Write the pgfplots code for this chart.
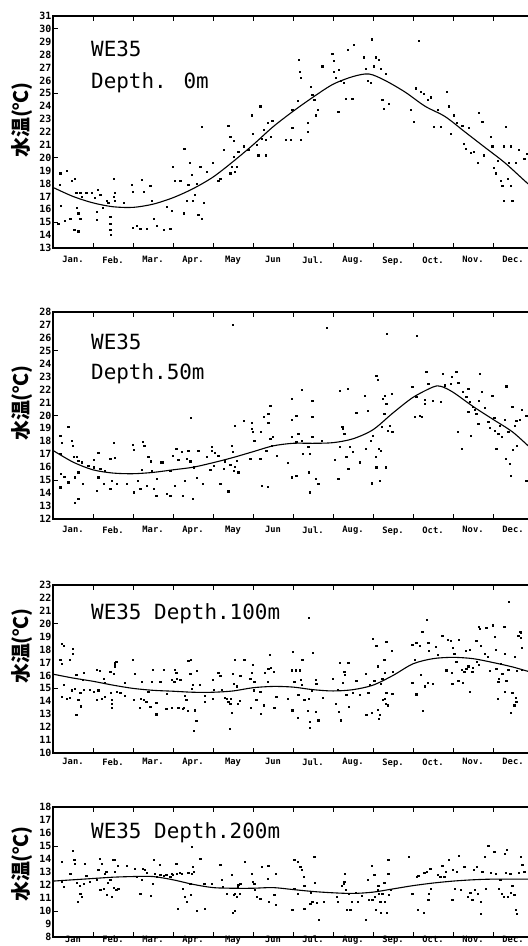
\documentclass[border=0pt]{standalone}
\usepackage{pgfplots}
\pgfplotsset{compat=1.18}
\usepackage{fontspec}
\setmainfont{DejaVu Sans Mono}
\newfontfamily\mono{DejaVu Sans Mono}
\newfontfamily\cjk{Noto Sans CJK JP}
\newcommand\tickfont{\mono\bfseries\fontsize{10}{10}\selectfont}
\newcommand\monthfont{\mono\bfseries\fontsize{8.8}{9}\selectfont}
\newcommand\titlefont{\mono\fontsize{21}{22}\selectfont}
\newcommand\ylabfont{\cjk\bfseries\fontsize{20}{20}\selectfont}
\pgfplotsset{panel/.style={
  scale only axis, width=480bp, anchor=south west,
  xmin=0, xmax=12,
  xtick={0.5,1.5,...,11.5}, minor xtick={1,2,...,11},
  major tick length=0pt, minor tick length=5bp,
  axis line style={line width=1.4bp},
  every tick/.style={black, line width=0.8bp},
  xticklabel style={font=\monthfont},
  yticklabel style={font=\tickfont, inner sep=1.5bp},
  /pgf/number format/assume math mode=true,
}}
\pgfplotsset{dots/.style={only marks, mark=square*, mark size=0.55bp, black},
  fit/.style={smooth, no marks, black, line width=1.1bp}}
\begin{document}
\begin{tikzpicture}[x=1bp,y=1bp]
% ---------- Panel 1 : 0 m ----------
\begin{axis}[panel, at={(53bp,698bp)}, height=232bp, ymin=13, ymax=31,
  ytick={13,...,31}, minor ytick={15,20,25,30},
  xticklabels={Jan.,Feb.,Mar.,Apr.,May,Jun,Jul.,Aug.,Sep.,Oct.,Nov.,Dec.},
  xticklabel style={yshift=-5bp}]
\addplot[dots] coordinates {
(0.18,18.8)(0.34,19.0)(0.16,17.9)(0.19,16.3)(0.13,14.9)(0.30,15.1)(0.43,15.3)(0.47,18.2)(0.55,18.4)(0.58,17.3)
(0.68,17.3)(0.72,17.0)(0.59,16.1)(0.63,15.7)(0.68,15.3)(0.53,14.4)(0.63,14.3)(0.83,17.3)(0.97,17.3)(1.05,16.9)
(1.09,15.8)(1.09,15.2)(1.11,17.5)(1.18,17.1)(1.24,16.1)(1.34,16.7)(1.38,16.5)(1.43,15.4)(1.43,14.9)(1.43,14.4)
(1.44,14.0)(1.51,18.4)(1.51,17.0)(1.55,17.3)(1.55,16.7)(1.76,16.5)(1.97,17.9)(2.00,17.4)(1.99,14.6)(2.09,14.7)
(2.18,14.5)(2.22,18.3)(2.26,17.4)(2.34,14.5)(2.43,17.8)(2.47,16.7)(2.51,15.3)(2.59,14.7)(2.76,14.4)(2.84,16.2)
(2.93,14.5)(2.97,15.9)(3.00,19.3)(3.05,18.2)(3.18,18.2)(3.26,15.7)(3.28,20.7)(3.34,16.7)(3.38,17.9)(3.42,19.6)
(3.47,18.7)(3.49,16.7)(3.55,17.1)(3.59,18.0)(3.63,15.6)(3.68,19.3)(3.72,15.3)(3.72,22.4)(3.76,16.5)(3.84,18.9)
(4.00,19.6)(4.13,18.2)(4.18,18.4)(4.26,20.6)(4.38,22.5)(4.43,21.6)(4.43,18.8)(4.47,19.3)(4.51,20.1)(4.51,21.3)
(4.55,18.9)(4.59,19.3)(4.63,20.5)(4.76,20.9)(4.88,20.6)(4.97,23.3)(5.00,21.9)(5.09,21.0)(5.13,20.2)(5.18,24.0)
(5.22,21.5)(5.26,22.2)(5.36,22.7)(5.48,22.9)(5.32,21.4)(5.32,20.2)(5.44,21.6)(5.82,21.4)(5.94,21.4)(5.98,23.7)
(5.98,22.3)(6.11,24.4)(6.15,27.6)(6.17,26.7)(6.19,26.2)(6.19,21.4)(6.36,22.7)(6.36,22.0)(6.44,25.5)(6.48,24.9)
(6.53,24.5)(6.57,23.3)(6.61,23.7)(6.73,27.1)(6.98,28.1)(7.02,27.5)(7.02,26.7)(7.07,26.2)(7.13,23.6)(7.15,26.8)
(7.19,26.0)(7.27,25.8)(7.32,24.6)(7.36,28.4)(7.48,24.6)(7.52,28.8)(7.77,27.8)(7.82,26.9)(7.86,26.0)(7.94,25.8)
(7.96,29.2)(8.02,27.1)(8.07,27.8)(8.15,27.6)(8.19,26.9)(8.23,24.5)(8.27,23.8)(8.32,26.5)(8.40,24.2)(8.94,23.7)
(9.02,22.8)(9.07,25.4)(9.15,29.1)(9.19,25.1)(9.27,25.0)(9.36,24.5)(9.44,24.7)(9.52,22.4)(9.61,23.7)(9.69,22.4)
(9.84,25.1)(9.90,24.0)(9.94,21.9)(10.02,23.3)(10.10,22.7)(10.23,22.5)(10.27,21.1)(10.32,20.7)(10.40,22.3)(10.44,20.4)
(10.52,20.5)(10.61,19.6)(10.65,23.5)(10.73,22.8)(10.77,20.2)(10.94,21.6)(10.98,20.9)(11.02,19.2)(11.07,18.8)(11.11,19.8)
(11.19,18.2)(11.23,17.8)(11.27,20.9)(11.32,22.4)(11.36,18.4)(11.40,19.6)(11.44,20.9)(11.44,17.8)(11.27,16.7)(11.48,16.7)
(11.57,19.6)(11.65,20.6)(11.78,19.9)(11.85,20.3)(11.90,17.5)};
\addplot[fit] coordinates {(0,17.7)(0.5,17.0)(1,16.5)(1.5,16.2)(2,16.15)(2.5,16.4)(3,16.9)(3.5,17.6)(4,18.5)(4.5,19.7)
(5,21.0)(5.5,22.4)(6,23.6)(6.5,24.7)(7,25.7)(7.5,26.3)(7.9,26.5)(8.3,26.0)(8.8,25.1)(9.3,24.0)(9.8,23.2)(10.3,22.0)
(10.8,20.8)(11.3,19.6)(11.85,18.05)(12,17.7)};
\end{axis}
% ---------- Panel 2 : 50 m ----------
\begin{axis}[panel, at={(53bp,427bp)}, height=207bp, ymin=12, ymax=28,
  ytick={12,...,28}, minor ytick={15,20,25},
  xticklabels={Jan.,Feb.,Mar.,Apr.,May,Jun,Jul.,Aug.,Sep.,Oct.,Nov.,Dec.},
  xticklabel style={yshift=-4bp}]
\addplot[dots] coordinates {
(0.18,18.46)(0.22,17.87)(0.18,17.04)(0.19,15.5)(0.18,14.46)(0.28,15.28)(0.38,19.1)(0.38,14.84)(0.47,18.07)(0.49,17.69)
(0.51,16.78)(0.55,15.23)(0.55,13.29)(0.63,13.55)(0.59,16.83)(0.63,16.52)(0.63,15.62)(0.72,16.39)(0.74,14.71)(0.88,16.14)
(1.01,16.0)(1.01,16.57)(1.09,14.2)(1.13,17.09)(1.13,15.23)(1.18,15.88)(1.26,14.71)(1.30,15.75)(1.43,16.65)(1.43,14.33)
(1.47,14.97)(1.51,17.87)(1.55,16.73)(1.59,14.71)(1.84,14.71)(1.99,17.76)(2.01,17.35)(2.01,14.07)(2.11,14.97)(2.18,14.33)
(2.22,15.8)(2.24,17.94)(2.28,17.69)(2.34,14.59)(2.38,16.78)(2.44,16.47)(2.47,15.75)(2.51,14.33)(2.58,13.81)(2.59,15.1)
(2.69,16.39)(2.74,16.39)(2.84,13.94)(2.93,15.75)(2.93,13.81)(3.0,16.91)(3.05,14.59)(3.08,17.43)(3.13,16.57)(3.22,17.17)
(3.24,13.81)(3.3,14.97)(3.34,16.65)(3.38,17.3)(3.43,16.47)(3.44,19.83)(3.49,13.55)(3.51,16.0)(3.59,15.18)(3.63,17.25)
(3.74,14.71)(3.84,16.83)(3.93,15.8)(3.97,17.56)(3.97,17.3)(4.01,16.14)(4.05,17.09)(4.13,16.91)(4.18,14.71)(4.26,15.88)
(4.3,16.47)(4.38,14.15)(4.43,16.21)(4.47,17.69)(4.49,17.17)(4.51,15.75)(4.55,16.06)(4.59,16.52)(4.63,15.62)(4.55,19.24)
(4.76,19.57)(4.93,16.65)(4.97,19.42)(4.97,18.98)(4.99,18.72)(5.03,18.07)(5.18,16.65)(5.19,18.72)(5.22,14.59)(5.26,19.88)
(5.33,17.3)(5.36,14.51)(5.38,20.14)(5.38,19.42)(5.43,20.79)(5.43,18.2)(5.47,17.69)(5.49,18.33)(5.59,16.91)(5.86,16.32)
(5.96,21.3)(5.96,19.68)(5.96,18.33)(5.96,15.23)(6.08,17.94)(6.13,18.59)(6.08,20.01)(6.21,22.0)(6.21,18.07)(6.08,15.36)
(6.25,17.04)(6.38,17.56)(6.39,15.62)(6.42,17.04)(6.42,14.07)(6.48,21.12)(6.48,19.88)(6.48,18.33)(6.56,15.1)(6.63,14.71)
(6.71,18.07)(7.04,16.57)(7.13,15.1)(7.17,17.61)(7.17,21.9)(7.23,19.11)(7.25,18.98)(7.28,18.59)(7.33,16.83)(7.36,22.05)
(7.38,15.88)(7.42,17.56)(7.5,17.17)(7.58,20.19)(7.67,16.39)(7.79,21.56)(7.81,17.43)(7.86,20.35)(7.94,18.02)(7.96,14.77)
(8.0,18.46)(8.06,16.78)(8.08,16.0)(8.08,23.11)(8.11,22.78)(8.14,17.43)(8.17,14.97)(8.19,17.3)(8.21,19.11)(8.25,21.3)
(8.28,20.14)(8.29,21.56)(8.31,16.0)(8.33,20.92)(8.36,18.85)(8.42,19.24)(8.46,21.69)(8.48,18.72)(8.98,22.21)(9.04,19.88)
(9.08,21.43)(9.17,20.01)(9.21,19.88)(9.29,20.92)(9.29,21.23)(9.33,23.37)(9.38,22.47)(9.5,21.12)(9.69,21.05)(9.75,23.24)
(9.79,22.34)(9.94,22.47)(9.96,23.03)(10.08,23.37)(10.11,18.72)(10.13,22.52)(10.21,17.43)(10.25,21.82)(10.33,21.43)(10.38,20.27)
(10.38,22.08)(10.42,21.05)(10.44,18.46)(10.5,20.66)(10.54,20.45)(10.58,20.14)(10.63,19.37)(10.64,21.12)(10.67,23.24)(10.71,21.82)
(10.79,20.61)(10.88,19.5)(10.92,19.06)(10.98,21.56)(11.03,19.83)(11.04,18.85)(11.08,17.43)(11.13,18.59)(11.17,19.24)(11.21,18.33)
(11.29,19.68)(11.31,16.65)(11.33,22.26)(11.38,18.72)(11.42,16.26)(11.44,15.36)(11.48,20.66)(11.5,17.35)(11.54,19.24)(11.58,19.62)
(11.6,17.69)(11.67,19.68)(11.71,20.45)(11.83,14.97)(11.83,20.01)(4.5,27.0)(6.85,26.8)(8.35,26.3)(9.1,26.2)};
\addplot[fit] coordinates {(0,17.3)(0.5,16.4)(1,15.8)(1.5,15.55)(2,15.5)(2.5,15.6)(3,15.8)(3.5,16.0)(4,16.35)(4.5,16.75)
(5,17.2)(5.5,17.65)(6,17.85)(6.5,17.85)(7,17.9)(7.5,18.2)(8,18.9)(8.5,20.2)(9,21.4)(9.5,22.2)(9.7,22.25)(10,21.8)
(10.5,20.7)(11,19.7)(11.5,18.7)(12,17.3)};
\end{axis}
% ---------- Panel 3 : 100 m ----------
\begin{axis}[panel, at={(53bp,193bp)}, height=168bp, ymin=10, ymax=23,
  ytick={10,...,23}, minor ytick={15,20},
  xticklabels={Jan.,Feb.,Mar.,Apr.,May,Jun,Jul.,Aug.,Sep.,Oct.,Nov.,Dec.},
  xticklabel style={yshift=-2bp}]
\addplot[dots] coordinates {
(0.22,18.43)(0.26,18.27)(0.18,17.24)(0.22,16.88)(0.26,15.25)(0.22,14.35)(0.34,14.22)(0.41,14.3)(0.49,18.09)(0.49,17.71)
(0.41,17.24)(0.47,14.86)(0.55,15.0)(0.58,16.03)(0.58,12.93)(0.63,14.09)(0.68,14.66)(0.69,13.62)(0.74,15.69)(0.76,16.21)
(0.76,14.92)(0.91,14.92)(1.01,14.73)(1.09,16.47)(1.09,14.09)(1.13,14.86)(1.16,16.36)(1.22,14.22)(1.26,15.77)(1.3,14.35)
(1.3,15.43)(1.43,16.29)(1.44,14.66)(1.47,14.14)(1.47,13.83)(1.47,13.49)(1.51,16.11)(1.55,16.72)(1.58,17.06)(1.59,14.73)
(1.68,14.66)(1.8,15.43)(1.8,14.4)(1.99,17.19)(2.01,14.09)(2.05,16.11)(2.16,13.49)(2.19,14.22)(2.22,15.51)(2.26,14.09)
(2.33,13.96)(2.38,14.73)(2.43,13.57)(2.47,15.51)(2.49,16.47)(2.58,13.0)(2.58,13.88)(2.68,15.51)(2.76,16.47)(2.83,13.44)
(2.84,14.6)(2.97,15.64)(2.97,13.52)(3.03,15.51)(3.05,16.47)(3.08,16.21)(3.09,15.77)(3.13,13.52)(3.18,15.69)(3.24,13.44)
(3.26,13.52)(3.3,14.4)(3.33,14.14)(3.36,13.26)(3.38,17.14)(3.43,16.11)(3.44,17.19)(3.47,15.0)(3.49,15.25)(3.51,11.76)
(3.55,13.31)(3.58,12.49)(3.59,16.36)(3.66,15.25)(3.8,14.4)(3.8,13.96)(3.99,15.69)(3.99,14.22)(4.01,14.92)(4.13,16.21)
(4.18,15.95)(4.22,14.92)(4.3,14.3)(4.34,14.22)(4.38,13.96)(4.41,11.89)(4.43,13.83)(4.44,14.22)(4.47,13.11)(4.49,16.11)
(4.51,15.33)(4.55,17.24)(4.59,15.17)(4.61,13.83)(4.66,14.04)(4.68,15.95)(4.78,17.19)(4.93,15.77)(4.95,13.52)(4.97,16.21)
(4.99,16.8)(5.01,14.86)(5.03,15.51)(5.08,14.09)(5.18,14.73)(5.19,13.06)(5.26,13.7)(5.3,16.21)(5.36,15.51)(5.38,16.54)
(5.41,17.63)(5.44,16.62)(5.51,16.29)(5.53,13.52)(5.58,14.35)(5.86,14.22)
(5.96,16.41)(5.99,17.84)(6.03,15.51)(6.06,16.41)(6.17,16.41)(6.19,15.64)(6.23,17.19)(6.21,15.25)(5.98,13.31)(6.11,12.74)
(6.13,14.48)(6.28,14.09)(6.36,13.26)(6.39,14.22)(6.42,12.41)(6.42,11.97)(6.46,14.86)(6.5,17.76)(6.56,15.69)(6.56,13.18)
(6.58,15.33)(6.63,12.54)(6.75,14.3)(7.0,15.77)(7.06,13.83)(7.11,14.92)(7.14,13.18)(7.17,16.98)(7.19,12.54)(7.25,15.43)
(7.28,16.29)(7.29,16.03)(7.33,14.48)(7.38,16.98)(7.39,13.57)(7.5,14.66)(7.58,15.59)(7.67,14.48)(7.81,16.11)(7.83,12.93)
(7.88,14.66)(7.92,15.25)(7.96,13.11)(8.0,18.87)(8.03,15.59)(8.08,18.27)(8.11,16.72)(8.11,13.36)(8.14,12.67)(8.17,12.93)
(8.19,15.33)(8.23,15.77)(8.25,14.09)(8.28,17.24)(8.29,16.21)(8.29,14.22)(8.31,13.83)(8.33,18.61)(8.33,14.66)(8.36,13.7)
(8.46,17.91)(8.48,14.6)(8.5,16.29)(8.98,18.35)(8.98,15.43)(9.04,17.24)(9.08,14.55)(9.08,18.53)(9.17,18.27)(9.19,16.03)
(9.23,19.39)(9.25,13.26)(9.29,15.17)(9.36,15.43)(9.38,18.53)(9.39,17.91)(9.5,15.38)(9.56,18.22)(9.61,17.58)(9.73,19.05)
(9.83,16.41)(9.86,18.79)(9.94,18.69)(9.96,16.21)(9.98,15.33)(10.0,18.17)(10.03,17.65)(10.08,17.06)(10.13,15.59)(10.14,18.79)
(10.21,16.47)(10.25,15.43)(10.28,16.29)(10.31,17.91)(10.33,16.54)(10.38,16.72)(10.42,18.02)(10.42,14.73)(10.48,16.29)(10.5,16.62)
(10.58,18.69)(10.6,17.06)(10.64,16.8)(10.67,19.64)(10.69,18.27)(10.79,17.71)(10.83,19.72)(10.86,17.45)(10.92,16.36)(11.0,19.82)
(11.04,19.0)(11.06,17.96)(11.08,16.54)(11.11,14.22)(11.13,15.51)(11.14,15.77)(11.19,16.88)(11.23,16.11)(11.28,19.77)(11.29,17.71)
(11.29,14.73)(11.33,15.59)(11.38,16.47)(11.44,13.11)(11.48,14.66)(11.53,13.7)(11.54,17.45)(11.56,14.3)(11.58,13.96)(11.6,16.36)
(11.63,19.07)(11.67,19.39)(11.71,18.17)(11.71,16.47)(6.4,20.5)(9.35,20.3)(11.4,21.7)(10.65,19.75)(11.0,19.9)(11.3,19.75)
(11.7,19.35)(11.7,18.9)(1.55,16.95)};
\addplot[fit] coordinates {(0,16.1)(0.5,15.8)(1,15.55)(1.5,15.25)(2,15.0)(2.5,14.85)(3,14.78)(3.5,14.7)(4,14.7)(4.5,14.8)
(5,15.05)(5.5,15.15)(6,15.1)(6.5,14.9)(7,14.8)(7.5,14.9)(8,15.25)(8.5,16.0)(9,16.9)(9.5,17.3)(10,17.4)(10.5,17.3)
(11,17.0)(11.5,16.65)(12,16.2)};
\end{axis}
% ---------- Panel 4 : 200 m ----------
\begin{axis}[panel, at={(53bp,9bp)}, height=130bp, ymin=8, ymax=18,
  ytick={8,...,18}, minor ytick={10,15},
  xticklabels={Jan,Feb.,Mar.,Apr.,May,Jun,Jul.,Aug.,Sep.,Oct.,Nov.,Dec.},
  xticklabel style={inner sep=0.3bp, yshift=1.8bp}]
\addplot[dots] coordinates {
(0.22,13.79)(0.22,12.25)(0.26,11.87)(0.49,14.64)(0.43,12.84)(0.53,13.97)(0.55,13.66)(0.59,12.18)(0.61,10.72)(0.66,11.92)
(0.68,11.36)(0.72,11.1)(0.76,12.13)(0.8,13.66)(0.83,12.69)(0.91,12.25)(1.09,12.43)(1.13,13.2)(1.16,14.05)(1.18,11.66)
(1.22,13.61)(1.26,11.74)(1.3,12.84)(1.33,13.02)(1.34,11.23)(1.36,12.18)(1.43,12.43)(1.47,11.1)(1.49,13.97)(1.51,11.82)
(1.55,13.92)(1.55,13.02)(1.58,11.61)(1.61,13.46)(1.63,11.74)(1.84,13.46)(2.05,13.28)(2.09,12.64)(2.18,11.36)(2.22,12.43)
(2.24,13.28)(2.3,13.2)(2.34,12.95)(2.44,11.2)(2.49,12.13)(2.51,13.92)(2.55,12.89)(2.59,12.64)(2.66,13.54)(2.68,12.77)
(2.76,12.69)(2.83,12.77)(2.93,12.64)(2.97,12.89)(3.0,12.77)(3.08,13.66)(3.09,12.89)(3.11,10.2)(3.16,12.95)(3.22,12.89)
(3.24,11.74)(3.3,11.1)(3.34,10.72)(3.38,12.95)(3.43,12.13)(3.44,11.23)(3.47,14.95)(3.47,12.84)(3.49,13.41)(3.51,13.02)
(3.59,10.02)(3.68,14.05)(3.78,12.13)(3.8,10.2)(3.97,12.13)(4.18,13.54)(4.22,12.38)(4.24,11.87)(4.34,11.36)(4.47,12.77)
(4.49,9.87)(4.51,11.23)(4.55,10.02)(4.55,11.36)(4.59,11.1)(4.61,11.87)(4.63,12.0)(4.66,11.36)(4.68,12.13)(4.8,13.79)
(4.97,12.84)(4.99,12.25)(5.03,12.07)(5.05,11.61)(5.09,11.1)(5.18,10.97)(5.22,13.41)
(5.38,13.46)(5.4,10.72)(5.57,10.46)(5.57,12.89)(5.53,11.23)(5.36,12.51)(5.98,10.13)(6.03,11.74)(6.03,13.97)(6.11,11.36)
(6.11,13.79)(6.18,13.41)(6.21,13.15)(6.26,12.64)(6.28,11.92)(6.28,10.2)(6.43,10.59)(6.44,11.41)(6.48,10.72)(6.53,14.18)
(6.54,12.18)(6.59,10.64)(6.65,9.31)(6.76,10.72)(7.09,11.1)(7.11,10.72)(7.21,11.92)(7.26,12.07)(7.28,12.25)(7.29,12.84)
(7.32,11.61)(7.34,10.13)(7.4,11.36)(7.43,10.08)(7.46,10.72)(7.57,11.41)(7.61,10.72)(7.71,11.15)(7.82,9.31)(7.86,12.38)
(7.9,10.89)(7.96,13.46)(7.98,10.84)(8.03,12.77)(8.04,11.1)(8.07,10.13)(8.11,11.66)(8.13,11.92)(8.15,11.36)(8.18,10.72)
(8.19,9.87)(8.23,11.36)(8.28,12.18)(8.29,10.72)(8.34,9.87)(8.38,12.84)(8.4,11.23)(8.38,13.92)(8.44,11.61)(8.9,14.18)
(8.98,11.36)(9.09,12.64)(9.11,10.08)(9.13,12.69)(9.26,9.87)(9.28,12.95)(9.34,13.02)(9.38,10.84)(9.4,11.36)(9.43,13.28)
(9.44,11.74)(9.61,12.77)(9.68,12.64)(9.73,13.46)(9.78,12.64)(9.82,13.02)(9.9,13.97)(9.98,10.89)(10.0,13.2)(10.04,11.74)
(10.09,13.02)(10.15,14.23)(10.19,11.61)(10.28,13.41)(10.36,11.1)(10.43,11.41)(10.48,10.89)(10.51,13.2)(10.54,11.61)(10.59,13.41)
(10.61,11.36)(10.69,10.72)(10.69,9.82)(10.73,13.02)(10.79,14.18)(10.82,11.74)(10.88,15.0)(10.94,12.95)(11.03,14.56)(11.07,12.89)
(11.15,11.74)(11.18,12.43)(11.21,11.36)(11.26,11.1)(11.29,14.43)(11.32,12.95)(11.34,14.74)(11.36,11.1)(11.43,12.89)(11.44,11.41)
(11.48,11.92)(11.53,11.23)(11.57,10.08)(11.59,9.82)(11.65,12.95)(11.69,14.18)(11.73,13.54)(11.78,13.02)};
\addplot[fit] coordinates {(0,12.3)(0.5,12.4)(1,12.5)(1.5,12.6)(2,12.65)(2.5,12.65)(3,12.4)(3.5,12.05)(4,11.8)(4.5,11.75)
(5,11.75)(5.5,11.8)(6,11.65)(6.5,11.5)(7,11.4)(7.5,11.35)(8,11.45)(8.5,11.7)(9,11.95)(9.5,12.15)(10,12.3)(10.5,12.4)
(11,12.45)(12,12.45)};
\end{axis}
% ---------- titles and y labels ----------
\node[anchor=base west, font=\titlefont, inner sep=0] at (91,889) {WE35};
\node[anchor=base west, font=\titlefont, inner sep=0] at (91,857) {Depth. 0m};
\node[anchor=base west, font=\titlefont, inner sep=0] at (91,596) {WE35};
\node[anchor=base west, font=\titlefont, inner sep=0] at (91,566) {Depth.50m};
\node[anchor=base west, font=\titlefont, inner sep=0] at (91,326) {WE35 Depth.100m};
\node[anchor=base west, font=\titlefont, inner sep=0] at (91,107) {WE35 Depth.200m};
\node[rotate=90, font=\ylabfont, inner sep=0] at (22,826) {水温(℃)};
\node[rotate=90, font=\ylabfont, inner sep=0] at (22,543) {水温(℃)};
\node[rotate=90, font=\ylabfont, inner sep=0] at (22,300) {水温(℃)};
\node[rotate=90, font=\ylabfont, inner sep=0] at (22,82) {水温(℃)};
\pgfresetboundingbox
\useasboundingbox (0,0) rectangle (528,946);
\end{tikzpicture}
\end{document}
